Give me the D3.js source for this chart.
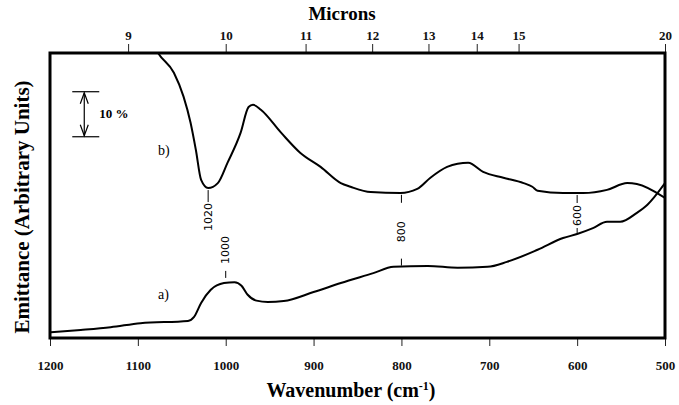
<!DOCTYPE html>
<html>
<head>
<meta charset="utf-8">
<script src="https://cdn.jsdelivr.net/npm/d3@7/dist/d3.min.js"></script>
<style>
  body { margin: 0; background: #fff; }
  svg { display: block; }
  .serif { font-family: 'Liberation Serif', 'DejaVu Serif', 'Times New Roman', serif; }
</style>
</head>
<body>
<svg id="chart" width="679" height="405"></svg>
<script>
// wavenumber ticks (bottom) and micron ticks (top)
const wnTicks = [1200, 1100, 1000, 900, 800, 700, 600, 500];
const micronTicks = [9, 10, 11, 12, 13, 14, 15, 20];

// spectrum b) : [wavenumber, emittance (arb.)]
const curveB = [
  [1085, 66.2], [1077, 63.3], [1059, 58.9], [1048, 53.6], [1040, 47.8],
  [1034, 41.8], [1028, 35.1], [1020, 33.3], [1009, 34.4], [998, 38.9],
  [983, 45.6], [974, 51.3], [969, 51.8], [960, 50.7], [937, 45.6],
  [915, 41.1], [892, 38.0], [869, 34.4], [858, 33.6], [835, 32.4],
  [801, 32.2], [782, 33.1], [767, 35.6], [748, 38.0], [736, 38.7],
  [724, 38.9], [707, 36.9], [684, 35.6], [661, 34.4], [651, 33.6],
  [645, 32.7], [616, 32.2], [593, 32.2], [566, 32.9], [543, 34.4],
  [532, 34.2], [500, 31.1]
];

// spectrum a)
const curveA = [
  [1199, 1.3], [1165, 1.8], [1131, 2.4], [1097, 3.3], [1043, 3.8],
  [1036, 4.7], [1028, 7.8], [1017, 10.7], [1002, 12.2], [990, 12.4],
  [982, 11.6], [975, 9.6], [965, 8.3], [952, 8.0], [934, 8.2], [900, 10.2],
  [869, 12.2], [832, 14.4], [809, 15.8], [770, 16.0], [736, 15.6],
  [702, 15.8], [680, 16.9], [645, 19.6], [616, 22.2], [600, 23.1],
  [582, 24.4], [566, 25.8], [551, 25.8], [532, 27.8], [520, 29.6],
  [500, 34.4]
];

// band annotations
const bandLabels = [
  { wn: 1020, text: '1020', where: 'belowB' },
  { wn: 1000, text: '1000', where: 'aboveA' },
  { wn: 800, text: '800', where: 'between' },
  { wn: 600, text: '600', where: 'between' }
];

const svg = d3.select('#chart');
const pLeft = 50, pRight = 665, pTop = 53, pBottom = 338;

const x = d3.scaleLinear().domain([1200, 500]).range([pLeft, pRight]);
const y = d3.scaleLinear().domain([0, 63.3]).range([pBottom, pTop]);

// clip for the spectra
svg.append('clipPath').attr('id', 'plotClip')
  .append('rect')
  .attr('x', pLeft).attr('y', pTop)
  .attr('width', pRight - pLeft).attr('height', pBottom - pTop);

// bottom axis
const gx = svg.append('g')
  .attr('transform', `translate(0,${pBottom})`)
  .call(d3.axisBottom(x).tickValues(wnTicks).tickFormat(d3.format('d'))
    .tickSize(8).tickPadding(15));

// top axis (microns -> wavenumber)
const gt = svg.append('g')
  .attr('transform', `translate(0,${pTop})`)
  .call(d3.axisTop(x).tickValues(micronTicks.map(m => 10000 / m))
    .tickFormat((d, i) => micronTicks[i]).tickSize(9).tickPadding(4));

[gx, gt].forEach(g => {
  g.attr('font-family', null);
  g.select('.domain').remove();
  g.selectAll('.tick line').attr('stroke', '#222').attr('stroke-width', 1);
  g.selectAll('.tick text')
    .attr('class', 'serif')
    .style('font-weight', 'bold')
    .style('font-size', '13px')
    .attr('fill', '#111');
});

// frame
svg.append('rect')
  .attr('x', pLeft).attr('y', pTop)
  .attr('width', pRight - pLeft).attr('height', pBottom - pTop)
  .attr('fill', 'none')
  .attr('stroke', '#000')
  .attr('stroke-width', 3);

// spectra
const line = d3.line()
  .x(d => x(d[0]))
  .y(d => y(d[1]))
  .curve(d3.curveMonotoneX);

const plot = svg.append('g').attr('clip-path', 'url(#plotClip)');
[curveB, curveA].forEach(c => {
  plot.append('path')
    .datum(c)
    .attr('d', line)
    .attr('fill', 'none')
    .attr('stroke', '#000')
    .attr('stroke-width', 2);
});

// value of a series at a wavenumber (for placing the annotations)
function valueAt(series, wn) {
  for (let i = 0; i < series.length - 1; i++) {
    const [x0, y0] = series[i], [x1, y1] = series[i + 1];
    if (wn <= x0 && wn >= x1) return y0 + (y1 - y0) * (wn - x0) / (x1 - x0);
  }
  return series[series.length - 1][1];
}

const ann = svg.append('g')
  .style('font-family', '"DejaVu Sans", "Liberation Sans", sans-serif')
  .style('font-size', '11px');

function dash(px, y1, y2) {
  ann.append('line')
    .attr('x1', px).attr('x2', px)
    .attr('y1', y1).attr('y2', y2)
    .attr('stroke', '#000').attr('stroke-width', 1);
}
function vtext(px, py, anchor, txt) {
  ann.append('text')
    .attr('transform', `translate(${px},${py}) rotate(-90)`)
    .attr('text-anchor', anchor)
    .attr('dominant-baseline', 'central')
    .text(txt);
}

bandLabels.forEach(b => {
  const px = x(b.wn);
  const yb = y(valueAt(curveB, b.wn));
  const ya = y(valueAt(curveA, b.wn));
  if (b.where === 'belowB') {
    dash(px, yb + 2, yb + 14);
    vtext(px, yb + 15, 'end', b.text);
  } else if (b.where === 'aboveA') {
    dash(px, ya - 5, ya - 12);
    vtext(px, ya - 19, 'start', b.text);
  } else {
    const mid = (yb + ya) / 2 + 2;
    const half = b.text.length * 3.5;
    dash(px, yb + 2, Math.min(yb + 10, mid - half - 2));
    vtext(px, mid, 'middle', b.text);
    dash(px, Math.max(ya - 8, mid + half + 2), ya - 1);
  }
});

// series labels
svg.append('text').attr('class', 'serif')
  .attr('x', x(1077)).attr('y', y(40.7))
  .style('font-size', '14px')
  .text('b)');
svg.append('text').attr('class', 'serif')
  .attr('x', x(1077)).attr('y', y(8.7))
  .style('font-size', '14px')
  .text('a)');

// 10 % scale bar
const barWn = 1161, barTop = 54.7, barSpan = 10;
const bx = x(barWn), by1 = y(barTop), by2 = y(barTop - barSpan);
const bar = svg.append('g').attr('stroke', '#000').attr('fill', 'none').attr('stroke-width', 1.2);
bar.append('line').attr('x1', bx - 12).attr('x2', bx + 15).attr('y1', by1).attr('y2', by1);
bar.append('line').attr('x1', bx - 12).attr('x2', bx + 15).attr('y1', by2).attr('y2', by2);
bar.append('line').attr('x1', bx).attr('x2', bx).attr('y1', by1 + 1).attr('y2', by2 - 1);
bar.append('path').attr('d', `M${bx - 4},${by1 + 12} L${bx},${by1 + 1} L${bx + 4},${by1 + 12}`);
bar.append('path').attr('d', `M${bx - 4},${by2 - 12} L${bx},${by2 - 1} L${bx + 4},${by2 - 12}`);
svg.append('text').attr('class', 'serif')
  .attr('x', bx + 15).attr('y', (by1 + by2) / 2 + 4)
  .style('font-weight', 'bold').style('font-size', '13px')
  .text('10 %');

// axis titles
svg.append('text').attr('class', 'serif')
  .attr('x', 342).attr('y', 20)
  .attr('text-anchor', 'middle')
  .style('font-weight', 'bold').style('font-size', '19px')
  .text('Microns');

const xt = svg.append('text').attr('class', 'serif')
  .attr('x', 351).attr('y', 397)
  .attr('text-anchor', 'middle')
  .style('font-weight', 'bold').style('font-size', '20px')
  .text('Wavenumber (cm');
xt.append('tspan').attr('baseline-shift', 'super').style('font-size', '12px').text('-1');
xt.append('tspan').text(')');

svg.append('text').attr('class', 'serif')
  .attr('transform', `translate(29,207) rotate(-90)`)
  .attr('text-anchor', 'middle')
  .style('font-weight', 'bold').style('font-size', '21px')
  .text('Emittance (Arbitrary Units)');
</script>
</body>
</html>
